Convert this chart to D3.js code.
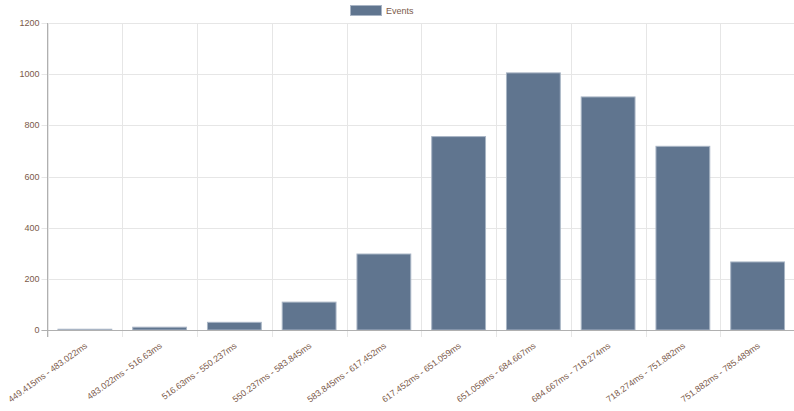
<!DOCTYPE html>
<html>
<head>
<meta charset="utf-8">
<script src="https://cdn.jsdelivr.net/npm/d3@7"></script>
<style>
  body { margin: 0; background: #fff; }
  text { font-family: "Liberation Sans", Arial, sans-serif; }
</style>
</head>
<body>
<script>
// Data
var bucket_labels = [
  "449.415ms - 483.022ms", "483.022ms - 516.63ms", "516.63ms - 550.237ms",
  "550.237ms - 583.845ms", "583.845ms - 617.452ms", "617.452ms - 651.059ms",
  "651.059ms - 684.667ms", "684.667ms - 718.274ms", "718.274ms - 751.882ms",
  "751.882ms - 785.489ms"
];
var event_counts = [3, 11, 30, 109, 297, 756, 1005, 911, 718, 266];
var y_ticks = [0, 200, 400, 600, 800, 1000, 1200];
var series_name = "Events";

var width = 794, height = 411;
var margin = { top: 23, right: -1, bottom: 81, left: 47.5 };

var svg = d3.select("body").append("svg")
  .attr("width", width)
  .attr("height", height);

var x = d3.scaleBand()
  .domain(bucket_labels)
  .range([margin.left, width - margin.right]);

var y = d3.scaleLinear()
  .domain([0, 1200])
  .range([height - margin.bottom, margin.top]);

var text_color = "#7b5a4a";
var grid_color = "#e6e6e6";
var font_px = 9;

// Horizontal grid lines
svg.append("g").selectAll("line")
    .data(y_ticks).enter()
  .append("line")
    .attr("x1", margin.left - 6)
    .attr("x2", width)
    .attr("y1", function(d) { return Math.round(y(d)) + 0.5; })
    .attr("y2", function(d) { return Math.round(y(d)) + 0.5; })
    .attr("stroke", grid_color);

// Vertical grid lines (category boundaries), with tick marks under the axis
svg.append("g").selectAll("line")
    .data(bucket_labels).enter()
  .append("line")
    .attr("x1", function(d) { return Math.round(x(d)) + 0.5; })
    .attr("x2", function(d) { return Math.round(x(d)) + 0.5; })
    .attr("y1", margin.top)
    .attr("y2", y(0) + 7)
    .attr("stroke", grid_color);

// Bars
var bar_w = x.bandwidth() * 0.72;
svg.append("g").selectAll("rect")
    .data(event_counts).enter()
  .append("rect")
    .attr("x", function(d, i) { return x(bucket_labels[i]) + (x.bandwidth() - bar_w) / 2; })
    .attr("y", function(d) { return y(d); })
    .attr("width", bar_w)
    .attr("height", function(d) { return y(0) - y(d); })
    .attr("fill", "#60758f")
    .attr("stroke", "#a9b5c5")
    .attr("stroke-width", 1);

// Axis lines
svg.append("line")
  .attr("x1", margin.left).attr("x2", margin.left)
  .attr("y1", margin.top).attr("y2", y(0) + 7)
  .attr("stroke", "#b0b0b0");
svg.append("line")
  .attr("x1", margin.left - 6).attr("x2", width)
  .attr("y1", y(0) + 0.5).attr("y2", y(0) + 0.5)
  .attr("stroke", "#b0b0b0");

// Y tick labels
svg.append("g").selectAll("text")
    .data(y_ticks).enter()
  .append("text")
    .attr("x", margin.left - 8)
    .attr("y", function(d) { return y(d); })
    .attr("dy", "0.35em")
    .attr("text-anchor", "end")
    .attr("font-size", font_px)
    .attr("fill", text_color)
    .text(function(d) { return d; });

// X tick labels, rotated
svg.append("g").selectAll("text")
    .data(bucket_labels).enter()
  .append("text")
    .attr("transform", function(d) {
      var cx = x(d) + x.bandwidth() / 2 + 3;
      return "translate(" + cx + "," + (y(0) + 17) + ") rotate(-36)";
    })
    .attr("text-anchor", "end")
    .attr("font-size", 8.8)
    .attr("fill", text_color)
    .text(function(d) { return d; });

// Legend
var legend = svg.append("g");
legend.append("rect")
  .attr("x", 350.5).attr("y", 5.5)
  .attr("width", 31).attr("height", 10)
  .attr("fill", "#60758f")
  .attr("stroke", "#a9b5c5");
legend.append("text")
  .attr("x", 386).attr("y", 11)
  .attr("dy", "0.35em")
  .attr("font-size", font_px)
  .attr("fill", text_color)
  .text(series_name);
</script>
</body>
</html>
